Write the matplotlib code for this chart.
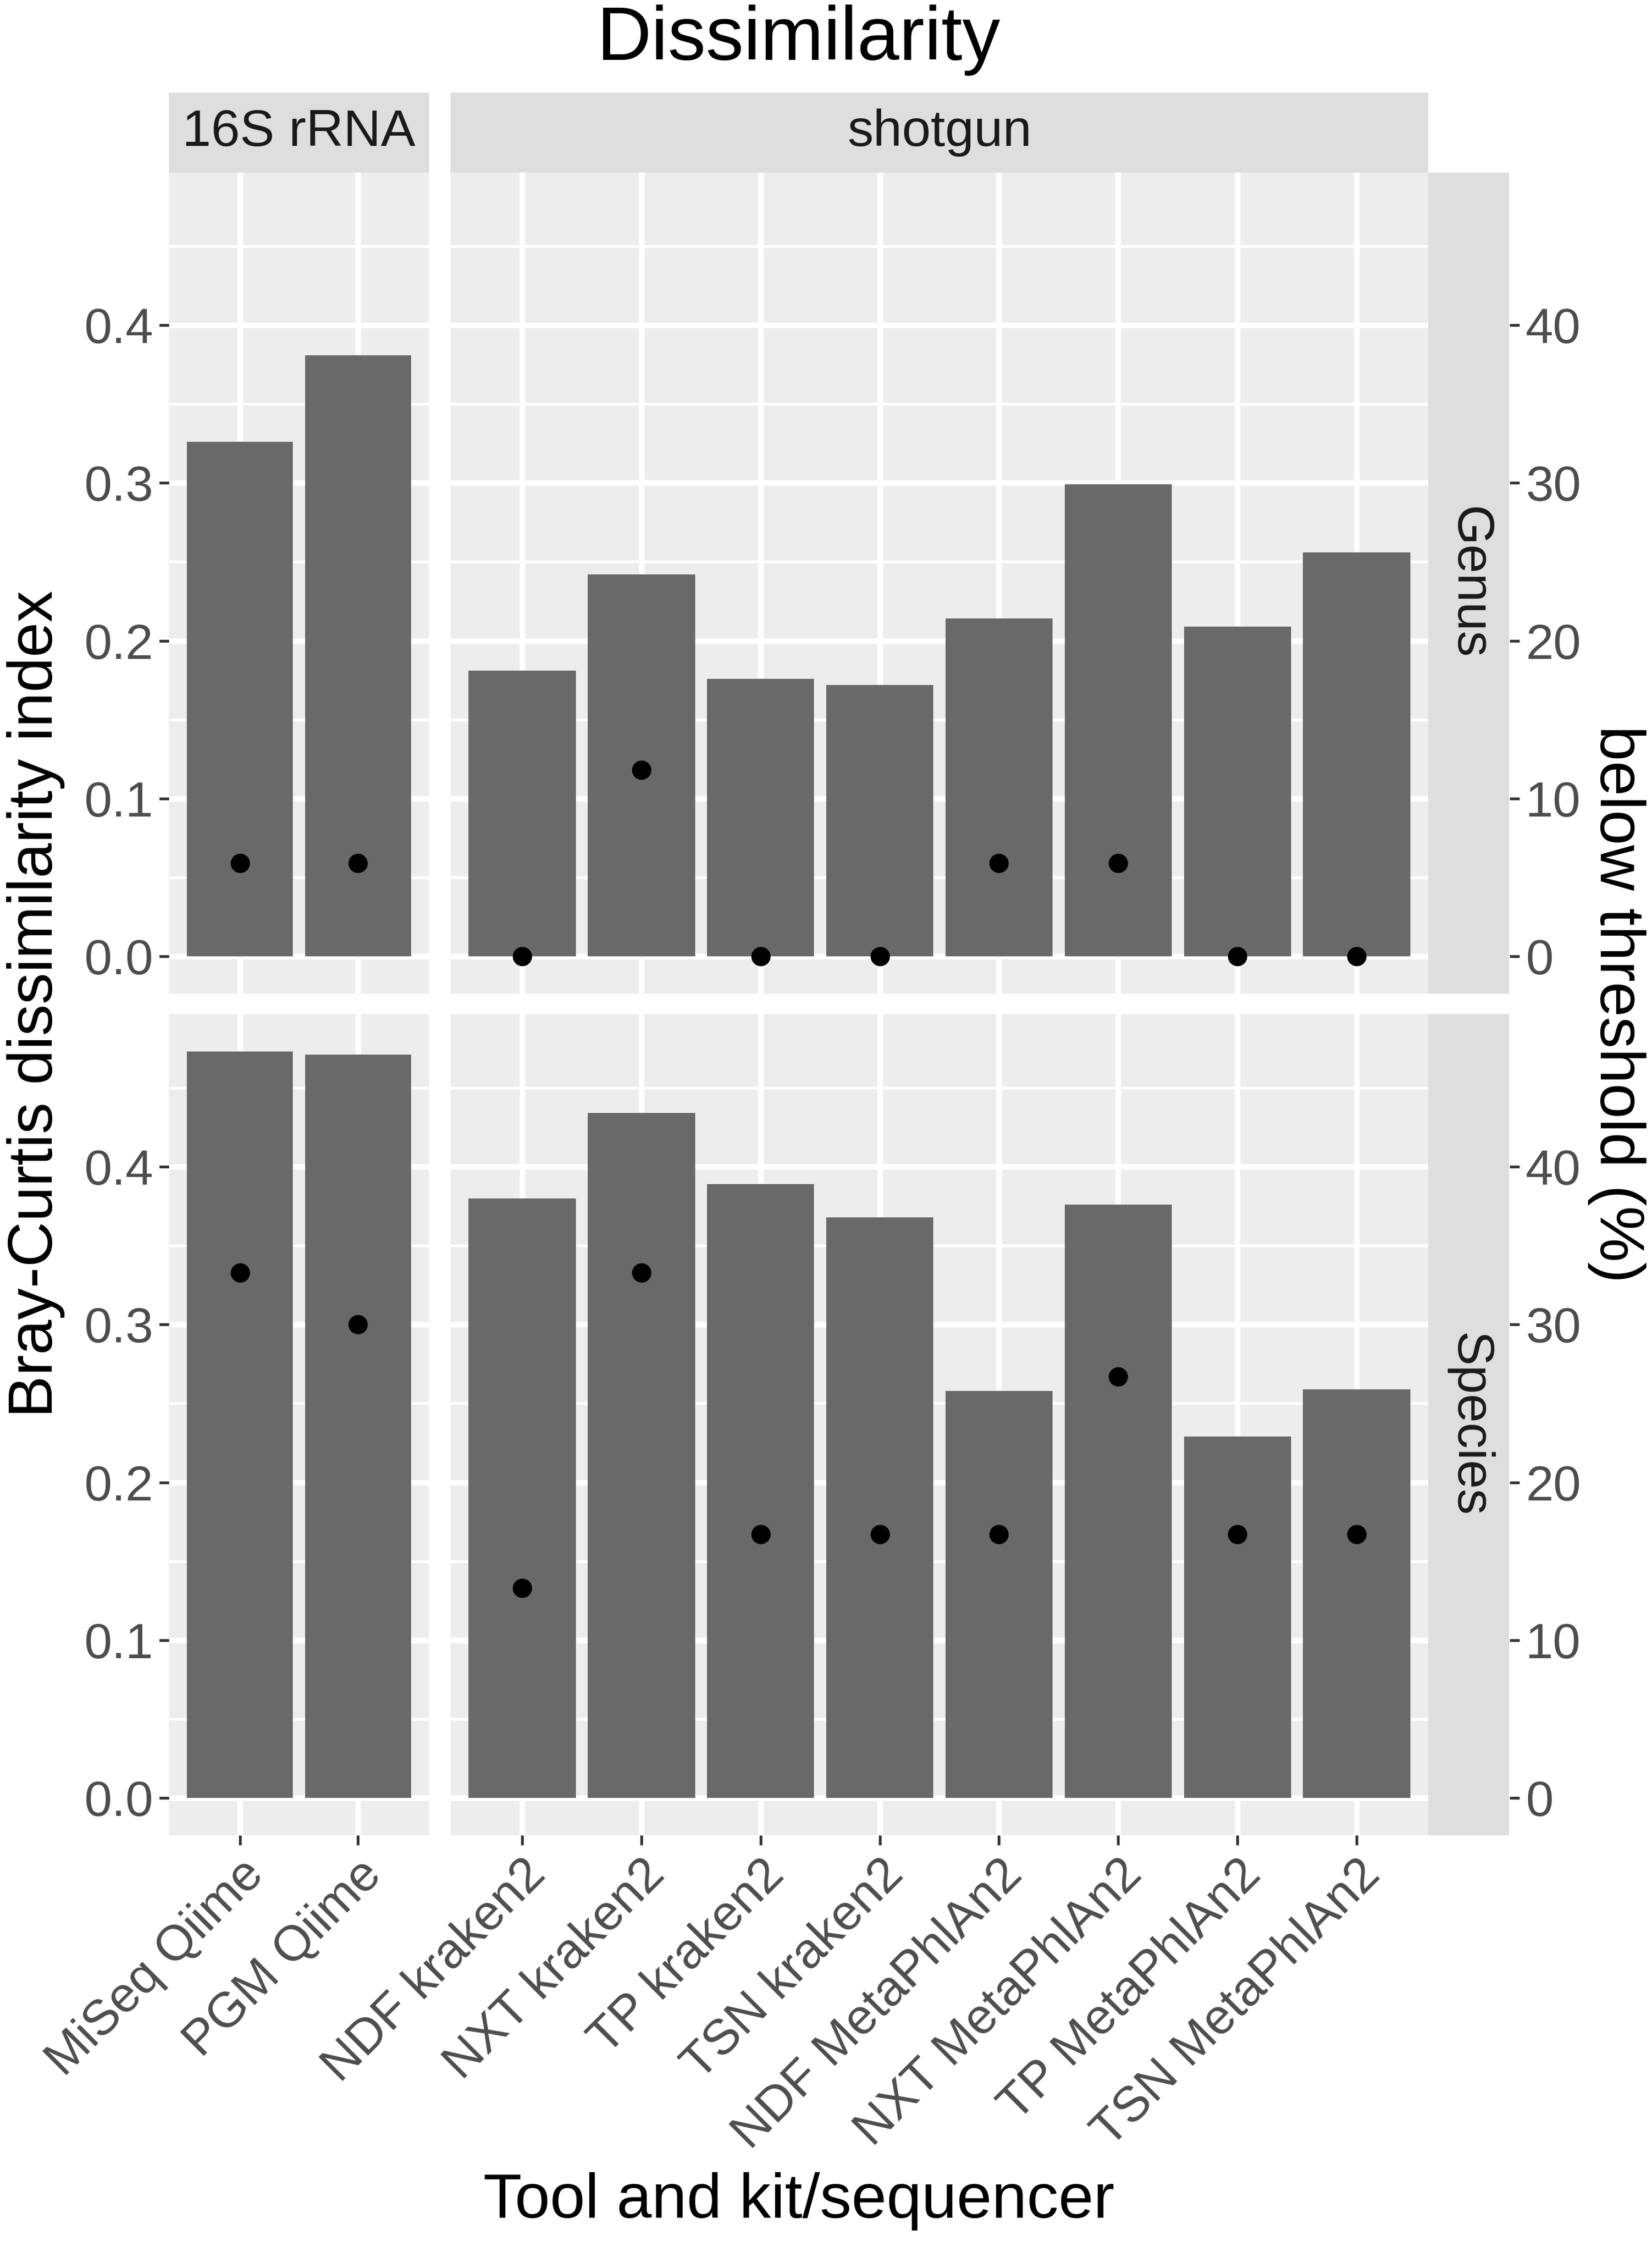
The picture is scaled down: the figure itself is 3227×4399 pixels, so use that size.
import matplotlib
matplotlib.use('Agg')
import matplotlib.pyplot as plt

plt.rcParams['font.family'] = ['Liberation Sans', 'DejaVu Sans']

# data
tools_16s = ["MiSeq Qiime", "PGM Qiime"]
tools_shotgun = ["NDF kraken2", "NXT kraken2", "TP kraken2", "TSN kraken2",
                 "NDF MetaPhlAn2", "NXT MetaPhlAn2", "TP MetaPhlAn2", "TSN MetaPhlAn2"]
methods = ["16S rRNA", "shotgun"]
levels = ["Genus", "Species"]

genus_bc_16s = [0.326, 0.381]
genus_bc_shotgun = [0.181, 0.242, 0.176, 0.172, 0.214, 0.299, 0.209, 0.256]
species_bc_16s = [0.473, 0.471]
species_bc_shotgun = [0.380, 0.434, 0.389, 0.368, 0.258, 0.376, 0.229, 0.259]

# percent below threshold (secondary axis)
genus_below_16s = [5.9, 5.9]
genus_below_shotgun = [0, 11.8, 0, 0, 5.9, 5.9, 0, 0]
species_below_16s = [33.3, 30.0]
species_below_shotgun = [13.3, 33.3, 16.7, 16.7, 16.7, 26.7, 16.7, 16.7]

W, H = 3227, 4399
DPI = 280
fig = plt.figure(figsize=(W / DPI, H / DPI), dpi=DPI)


def box(x0, y0, x1, y1):
    return [x0 / W, 1 - y1 / H, (x1 - x0) / W, (y1 - y0) / H]


panel_bg = '#EDEDED'
strip_bg = '#DEDEDE'
bar_col = '#696969'
tick_col = '#4D4D4D'
tick_size = 25

cols_x = [(330, 838), (880, 2790)]
rows_y = [(337, 1941), (1981, 3585)]
strip_right = (2790, 2948)
strip_top = (181, 337)

tools = [tools_16s, tools_shotgun]
bc = {("Genus", 0): genus_bc_16s, ("Genus", 1): genus_bc_shotgun,
      ("Species", 0): species_bc_16s, ("Species", 1): species_bc_shotgun}
below = {("Genus", 0): genus_below_16s, ("Genus", 1): genus_below_shotgun,
         ("Species", 0): species_below_16s, ("Species", 1): species_below_shotgun}

ymax = max(max(v) for v in bc.values())
ylim = (-0.05 * ymax, ymax * 1.05)

for r, lev in enumerate(levels):
    y0, y1 = rows_y[r]
    for c in range(2):
        x0, x1 = cols_x[c]
        ax = fig.add_axes(box(x0, y0, x1, y1))
        ax.set_facecolor(panel_bg)
        for s in ax.spines.values():
            s.set_visible(False)
        n = len(tools[c])
        xs = list(range(1, n + 1))
        ax.bar(xs, bc[(lev, c)], width=0.9, color=bar_col, zorder=2)
        ax.plot(xs, [v / 100 for v in below[(lev, c)]], 'o', color='black',
                markersize=8.7, zorder=3)
        ax.set_xlim(0.4, n + 0.6)
        ax.set_ylim(*ylim)
        ax.set_yticks([0, 0.1, 0.2, 0.3, 0.4])
        ax.set_yticks([0.05, 0.15, 0.25, 0.35, 0.45], minor=True)
        ax.set_xticks(xs)
        ax.set_axisbelow(True)
        ax.grid(True, which='major', color='white', linewidth=2.8)
        ax.grid(True, which='minor', axis='y', color='white', linewidth=1.4)
        ax.tick_params(which='minor', length=0)
        ax.tick_params(which='major', length=5, width=1.4, color='#333333',
                       labelsize=tick_size, labelcolor=tick_col, pad=3)
        if c == 0:
            ax.set_yticklabels(['0.0', '0.1', '0.2', '0.3', '0.4'])
        else:
            ax.tick_params(axis='y', left=False, labelleft=False)
        if r == 1:
            ax.set_xticklabels(tools[c], rotation=45, ha='right', va='top',
                               rotation_mode='anchor')
        else:
            ax.tick_params(axis='x', bottom=False, labelbottom=False)

        if r == 0:
            sax = fig.add_axes(box(x0, strip_top[0], x1, strip_top[1]))
            sax.set_facecolor(strip_bg)
            sax.set_xticks([])
            sax.set_yticks([])
            for s in sax.spines.values():
                s.set_visible(False)
            sax.text(0.5, 0.5, methods[c], ha='center', va='center',
                     fontsize=26, color='#1A1A1A', transform=sax.transAxes)

    # right strip
    rax = fig.add_axes(box(strip_right[0], y0, strip_right[1], y1))
    rax.set_facecolor(strip_bg)
    rax.set_xticks([])
    rax.set_yticks([])
    for s in rax.spines.values():
        s.set_visible(False)
    rax.text(0.5, 0.5, lev, ha='center', va='center', rotation=270,
             fontsize=26, color='#1A1A1A', transform=rax.transAxes)

    # secondary axis (percent)
    sec = fig.add_axes(box(strip_right[1], y0, strip_right[1] + 1, y1))
    sec.patch.set_visible(False)
    for s in sec.spines.values():
        s.set_visible(False)
    sec.set_ylim(ylim[0] * 100, ylim[1] * 100)
    sec.set_xticks([])
    sec.yaxis.tick_right()
    sec.set_yticks([0, 10, 20, 30, 40])
    sec.tick_params(axis='y', length=5, width=1.4, color='#333333',
                    labelsize=tick_size, labelcolor=tick_col, pad=3)

xc = (cols_x[0][0] + cols_x[1][1]) / 2 / W
yc = 1 - (rows_y[0][0] + rows_y[1][1]) / 2 / H
fig.text(xc, 1 - 78 / H, 'Dissimilarity', ha='center', va='center', fontsize=38)
fig.text(xc, 1 - 4300 / H, 'Tool and kit/sequencer', ha='center', va='center',
         fontsize=31.7)
fig.text(70 / W, yc, 'Bray-Curtis dissimilarity index', ha='center', va='center',
         rotation=90, fontsize=31.7)
fig.text(3158 / W, yc, 'below threshold (%)', ha='center', va='center',
         rotation=270, fontsize=31.7)

fig.savefig('out.png', dpi=DPI)
